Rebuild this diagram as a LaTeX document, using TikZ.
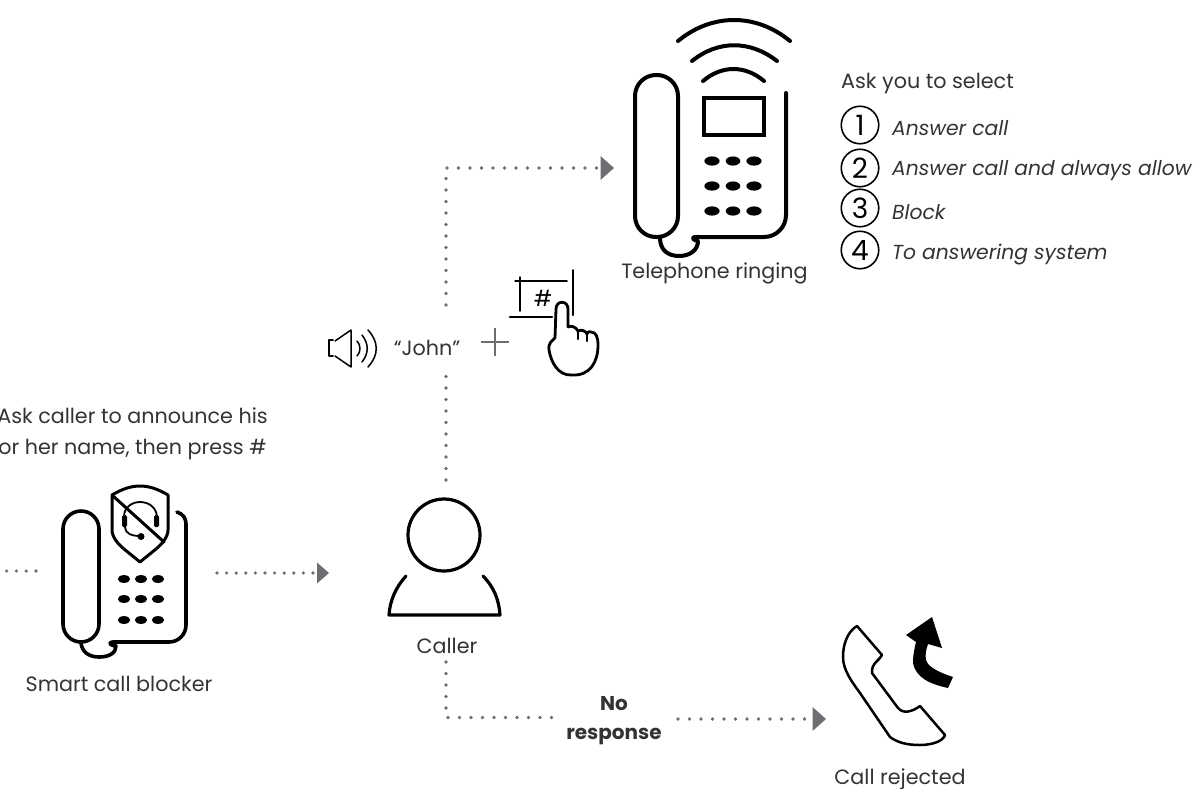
\documentclass[tikz,border=0pt]{standalone}
\usepackage{fontspec}
\setmainfont{Poppins}
\usetikzlibrary{arrows.meta}
\definecolor{ink}{HTML}{333333}
\definecolor{dotgray}{HTML}{6D6E71}
\tikzset{
  lab/.style={text=ink,inner sep=0pt,font=\fontsize{20.7}{31}\selectfont,align=center},
  opt/.style={text=ink,inner sep=0pt,anchor=west,font=\fontsize{20.3}{24}\selectfont\itshape},
  icon/.style={draw=black,line width=4pt,line cap=round,line join=round},
  thin icon/.style={draw=black,line width=1.5pt,line cap=round,line join=round},
  keypad/.style={fill=black,draw=none},
  dots/.style={draw=dotgray,line width=3.6pt,line cap=round,dash pattern=on 0pt off 11.5pt},
  dotarrow/.style={dots,-{Triangle[length=13.5pt,width=24pt,fill=dotgray,line width=0pt]}},
  numc/.style={circle,draw=black,line width=1.6pt,minimum size=37.5pt,inner sep=0pt,font=\fontsize{28}{28}\selectfont}
}
\begin{document}
\begin{tikzpicture}[x=1pt,y=-1pt]
\useasboundingbox (0,0) rectangle (1196,788);
% ---- large telephone
\draw[icon,rounded corners=21pt] (635,75) rectangle (678,237);
\draw[icon] (786,93) -- (786,215) arc[start angle=0,end angle=90,radius=22] -- (695,237) .. controls (692,237) and (692,240) .. (698,241) .. controls (698,250) and (690,256) .. (679,256) .. controls (668,256) and (660,250) .. (660,238);
\draw[icon,line width=4.4pt,line join=miter] (704,98) rectangle (764,135);
\foreach \y in {161,186,211}{
  \fill[keypad] (712,\y) ellipse[x radius=7.6,y radius=4.6];
  \fill[keypad] (733,\y) ellipse[x radius=7.3,y radius=4.6];
  \fill[keypad] (754,\y) ellipse[x radius=7.6,y radius=4.6];
}
\draw[icon] (678,41) .. controls (712,13) and (756,13) .. (790,41);
\draw[icon] (692,61) .. controls (718,40) and (750,40) .. (777,61);
\draw[icon] (703,81) .. controls (722,65) and (745,65) .. (764,81);
\node[lab] (tel) at (714.5,273) {Telephone ringing};
% ---- options
\node[lab,anchor=west] (ask) at (841,84) {Ask you to select};
\node[numc] (n1) at (860,125) {1};
\node[numc] (n2) at (860,168) {2};
\node[numc] (n3) at (860,208) {3};
\node[numc] (n4) at (860,250) {4};
\node[opt] (o1) at (892,128) {Answer call};
\node[opt] (o2) at (892,171) {Answer call and always allow};
\node[opt] (o3) at (892,212) {Block};
\node[opt] (o4) at (892,255) {To answering system};
% ---- speaker and John
\draw[thin icon] (333,340) -- (329,340) -- (329,356) -- (333,356);
\draw[thin icon] (335,341) -- (351,330) -- (351,367) -- (335,356);
\draw[thin icon] (357,341) .. controls (361,345) and (361,352) .. (357,356);
\draw[thin icon] (362,335) .. controls (369,344) and (369,353) .. (362,362);
\draw[thin icon] (368,330) .. controls (379,342) and (379,355) .. (368,367);
\node[lab] (john) at (427,348) {“John”};
\draw[draw=dotgray,line width=2pt] (481,342) -- (509,342) (495,328) -- (495,356);
% ---- key and hand
\draw[thin icon] (515,281) -- (567,281);
\draw[thin icon] (520,277) -- (520,311);
\draw[thin icon,line width=2pt] (573,270) -- (573,315);
\draw[thin icon,line width=2.8pt] (510,317) -- (552,317);
\node[text=black,inner sep=0pt,font=\fontsize{22}{22}\selectfont] (hash) at (543,298) {\#};
\draw[thin icon,line width=2.8pt] (568,327) -- (568,309) .. controls (568,300) and (556,300) .. (556,309) -- (555,338) .. controls (552,341) and (548,343) .. (549,350) .. controls (551,362) and (558,376) .. (572,375) .. controls (590,376) and (598,362) .. (598,345) .. controls (598,337) and (596,332) .. (591,332) .. controls (588,331) and (587,333) .. (587,334) .. controls (586,331) and (581,329) .. (578,331) .. controls (576,327) and (571,325) .. (568,327);
\draw[thin icon,line width=2.4pt] (578,331) -- (578,339) (587,334) -- (587,341);
% ---- smart call blocker
\draw[icon,line width=3.6pt,rounded corners=18pt] (63,511) rectangle (99,642);
\draw[icon,line width=3.6pt] (177,512) .. controls (183,514) and (186,518) .. (186,524) -- (186,625) arc[start angle=0,end angle=90,radius=17] -- (113,642) .. controls (109,642) and (108,645) .. (116,646) .. controls (116,653) and (109,657) .. (99,657) .. controls (89,657) and (82,652) .. (81,643);
\draw[icon,line width=3pt] (112,495) .. controls (122,489) and (131,486) .. (140,486) .. controls (149,486) and (158,489) .. (168,495) -- (168,530) .. controls (168,537) and (162,544) .. (156,549) -- (140,562) -- (124,549) .. controls (118,544) and (112,537) .. (112,530) -- cycle;
\draw[icon,line width=3pt] (113,496) -- (164,542);
\draw[icon,line width=1.8pt] (124,517) .. controls (124,497) and (156,497) .. (157,517);
\fill[rounded corners=1.5pt] (122,515) rectangle (127,527);
\fill[rounded corners=1.5pt] (154,515) rectangle (159,527);
\draw[icon,line width=1.8pt] (125,527) .. controls (125,533) and (131,536) .. (140,536);
\fill (141,536.5) circle[radius=3.5];
\foreach \y in {579,599,620}{
  \fill[keypad] (124,\y) ellipse[x radius=6.2,y radius=3.9];
  \fill[keypad] (141,\y) ellipse[x radius=6.2,y radius=3.9];
  \fill[keypad] (158,\y) ellipse[x radius=6.2,y radius=3.9];
}
\node[lab] (blocker) at (119,684) {Smart call blocker};
\node[lab] (askcaller) at (132.5,434) {Ask caller to announce his\\or her name, then press \#};
% ---- caller
\draw[icon,line width=3.2pt] (444,535) circle[radius=36];
\draw[icon,line width=3.2pt] (406,576) .. controls (396,587) and (390,600) .. (389,615) -- (500,615) .. controls (499,600) and (494,587) .. (483,576);
\node[lab] (caller) at (447,646) {Caller};
% ---- call rejected
\draw[icon,line width=2.5pt] (857,626) -- (882,655) .. controls (880,660) and (871,663) .. (872,673) -- (898,708) .. controls (903,714) and (912,712) .. (920,706) -- (945,735) .. controls (943,742) and (930,745) .. (920,745) .. controls (908,745) and (898,743) .. (890,737) -- (860,693) .. controls (852,682) and (843,670) .. (843,657) .. controls (843,645) and (847,632) .. (857,626) -- cycle;
\fill[black] (906,635) -- (932,617) -- (942,648) -- (928,644) .. controls (926,650) and (925,655) .. (926,660) .. controls (928,666) and (935,671) .. (953,677) -- (948,688) .. controls (930,684) and (916,678) .. (913,663) .. controls (913,656) and (914,650) .. (916,642) -- cycle;
\node[lab] (rejected) at (900,779) {Call rejected};
\node[lab,font=\fontsize{20}{29}\selectfont\bfseries] (noresp) at (614,721) {No\\response};
% ---- connectors
\coordinate (inL) at (0,571);
\coordinate (inR) at (36,571);
\coordinate (bR) at (217,573);
\coordinate (cL) at (329,573);
\coordinate (cT) at (446,480);
\coordinate (jB) at (446,374);
\coordinate (jT) at (446,305);
\coordinate (tL) at (614,168);
\coordinate (cB) at (446,662);
\coordinate (nL) at (561,717.5);
\coordinate (nR) at (678,719);
\coordinate (rL) at (826,719);
\draw[dots,dash pattern=on 0pt off 9.8pt] (inR) -- (inL);
\draw[dotarrow,dash pattern=on 0pt off 9.6pt,-{Triangle[length=12pt,width=21pt,fill=dotgray,line width=0pt]}] (bR) -- (cL);
\draw[dots] (cT) -- (jB);
\draw[dotarrow] (jT) |- (tL);
\draw[dots] (cB) |- (nL);
\draw[dotarrow] (nR) -- (rL);
\end{tikzpicture}
\end{document}
